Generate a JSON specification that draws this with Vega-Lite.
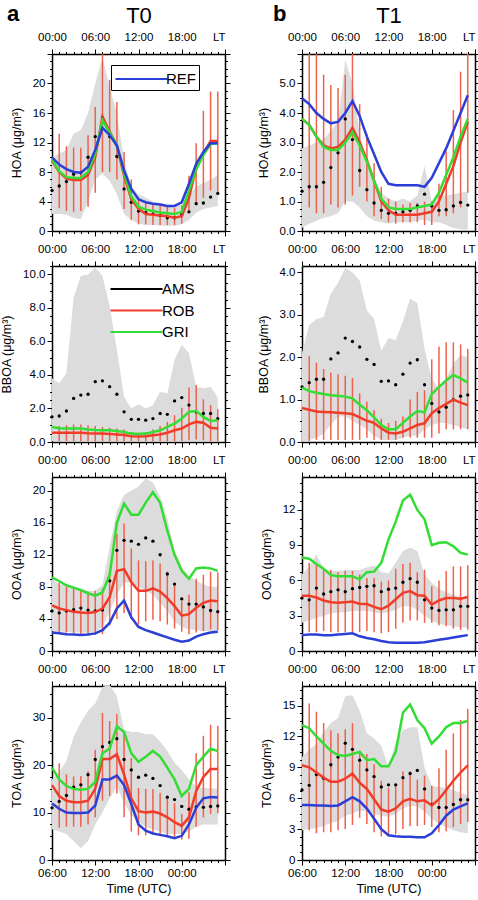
{
"$schema": "https://vega.github.io/schema/vega-lite/v6.json",
"padding": {"left": 0, "top": 3, "right": 6, "bottom": 4},
"background": "white",
"bounds": "flush",
"columns": 2,
"spacing": {"row": 35, "column": 77},
"resolve": {"scale": {"x": "independent", "y": "independent", "color": "independent"}, "legend": {"color": "independent"}},
"datasets": {
"hoa0": [
{"h":0,"lo":2.3,"hi":10.0,"ams":5.5,"rob":9.5,"gri":9.7,"ref":10.0,"elo":null,"ehi":null},
{"h":1,"lo":2.3,"hi":10.5,"ams":6.1,"rob":8.0,"gri":8.1,"ref":9.0,"elo":3.1,"ehi":13.2},
{"h":2,"lo":2.2,"hi":11.0,"ams":6.7,"rob":7.1,"gri":7.3,"ref":8.4,"elo":2.7,"ehi":11.5},
{"h":3,"lo":1.8,"hi":13.2,"ams":7.7,"rob":6.9,"gri":7.2,"ref":8.0,"elo":2.6,"ehi":11.3},
{"h":4,"lo":1.6,"hi":13.7,"ams":7.9,"rob":6.9,"gri":7.2,"ref":7.9,"elo":2.7,"ehi":11.3},
{"h":5,"lo":4.0,"hi":16.0,"ams":10.0,"rob":7.6,"gri":8.0,"ref":8.7,"elo":3.3,"ehi":13.0},
{"h":6,"lo":7.0,"hi":20.0,"ams":12.8,"rob":10.0,"gri":10.5,"ref":11.0,"elo":5.2,"ehi":16.8},
{"h":7,"lo":7.8,"hi":23.5,"ams":15.4,"rob":15.5,"gri":15.0,"ref":14.0,"elo":8.0,"ehi":25.0},
{"h":8,"lo":6.8,"hi":19.6,"ams":12.8,"rob":13.5,"gri":13.3,"ref":13.0,"elo":8.0,"ehi":20.5},
{"h":9,"lo":5.0,"hi":16.0,"ams":10.1,"rob":11.5,"gri":11.7,"ref":11.6,"elo":7.0,"ehi":17.5},
{"h":10,"lo":2.3,"hi":9.6,"ams":5.7,"rob":7.5,"gri":7.8,"ref":8.2,"elo":3.0,"ehi":10.7},
{"h":11,"lo":1.5,"hi":6.0,"ams":3.9,"rob":4.3,"gri":4.7,"ref":5.7,"elo":1.5,"ehi":7.0},
{"h":12,"lo":1.0,"hi":5.0,"ams":2.7,"rob":3.0,"gri":3.3,"ref":4.3,"elo":0.9,"ehi":4.5},
{"h":13,"lo":0.8,"hi":4.5,"ams":2.5,"rob":2.3,"gri":2.9,"ref":3.9,"elo":0.9,"ehi":3.8},
{"h":14,"lo":0.8,"hi":4.0,"ams":2.3,"rob":2.2,"gri":2.7,"ref":3.7,"elo":0.8,"ehi":3.6},
{"h":15,"lo":0.7,"hi":3.8,"ams":2.1,"rob":2.1,"gri":2.5,"ref":3.6,"elo":0.8,"ehi":3.5},
{"h":16,"lo":0.7,"hi":3.5,"ams":1.8,"rob":2.0,"gri":2.4,"ref":3.4,"elo":0.8,"ehi":3.3},
{"h":17,"lo":0.7,"hi":3.3,"ams":1.8,"rob":1.8,"gri":2.3,"ref":3.4,"elo":0.8,"ehi":3.1},
{"h":18,"lo":0.9,"hi":3.5,"ams":2.2,"rob":2.0,"gri":2.6,"ref":3.9,"elo":1.0,"ehi":3.5},
{"h":19,"lo":1.5,"hi":5.0,"ams":2.6,"rob":4.5,"gri":5.5,"ref":6.4,"elo":2.5,"ehi":7.5},
{"h":20,"lo":2.5,"hi":6.0,"ams":3.7,"rob":8.5,"gri":8.3,"ref":9.1,"elo":3.5,"ehi":11.9},
{"h":21,"lo":3.0,"hi":6.5,"ams":3.8,"rob":10.5,"gri":10.3,"ref":10.7,"elo":4.5,"ehi":16.3},
{"h":22,"lo":3.2,"hi":7.0,"ams":4.6,"rob":12.2,"gri":11.8,"ref":11.9,"elo":5.5,"ehi":18.9},
{"h":23,"lo":3.4,"hi":7.6,"ams":5.1,"rob":12.2,"gri":11.9,"ref":11.9,"elo":5.2,"ehi":18.9}
],
"hoa1": [
{"h":0,"lo":0.1,"hi":2.8,"ams":1.35,"rob":3.8,"gri":3.8,"ref":4.5,"elo":null,"ehi":null},
{"h":1,"lo":0.25,"hi":2.9,"ams":1.5,"rob":3.6,"gri":3.6,"ref":4.3,"elo":0.8,"ehi":6.0},
{"h":2,"lo":0.35,"hi":3.0,"ams":1.5,"rob":3.2,"gri":3.2,"ref":4.0,"elo":0.6,"ehi":6.0},
{"h":3,"lo":0.45,"hi":3.1,"ams":1.65,"rob":2.9,"gri":2.85,"ref":3.8,"elo":0.6,"ehi":5.3},
{"h":4,"lo":0.5,"hi":3.4,"ams":2.15,"rob":2.8,"gri":2.75,"ref":3.65,"elo":0.9,"ehi":4.95},
{"h":5,"lo":0.6,"hi":3.7,"ams":2.65,"rob":2.85,"gri":2.75,"ref":3.7,"elo":0.8,"ehi":4.85},
{"h":6,"lo":1.0,"hi":5.8,"ams":3.8,"rob":3.1,"gri":3.0,"ref":4.0,"elo":0.9,"ehi":5.3},
{"h":7,"lo":1.0,"hi":5.0,"ams":3.1,"rob":3.5,"gri":3.35,"ref":4.4,"elo":1.2,"ehi":6.0},
{"h":8,"lo":0.8,"hi":3.3,"ams":2.05,"rob":3.0,"gri":2.9,"ref":3.9,"elo":1.5,"ehi":4.3},
{"h":9,"lo":0.5,"hi":2.4,"ams":1.4,"rob":2.4,"gri":2.35,"ref":3.2,"elo":1.0,"ehi":3.3},
{"h":10,"lo":0.35,"hi":1.8,"ams":0.95,"rob":1.7,"gri":1.7,"ref":2.6,"elo":0.5,"ehi":2.3},
{"h":11,"lo":0.3,"hi":1.3,"ams":0.7,"rob":1.0,"gri":1.1,"ref":2.0,"elo":0.4,"ehi":1.5},
{"h":12,"lo":0.25,"hi":1.1,"ams":0.6,"rob":0.7,"gri":0.8,"ref":1.6,"elo":0.3,"ehi":1.1},
{"h":13,"lo":0.3,"hi":1.0,"ams":0.6,"rob":0.55,"gri":0.75,"ref":1.55,"elo":0.25,"ehi":1.0},
{"h":14,"lo":0.3,"hi":1.1,"ams":0.65,"rob":0.55,"gri":0.75,"ref":1.55,"elo":0.3,"ehi":0.9},
{"h":15,"lo":0.3,"hi":1.0,"ams":0.7,"rob":0.55,"gri":0.75,"ref":1.55,"elo":0.3,"ehi":0.95},
{"h":16,"lo":0.35,"hi":1.2,"ams":0.85,"rob":0.55,"gri":0.8,"ref":1.55,"elo":0.3,"ehi":0.95},
{"h":17,"lo":0.4,"hi":2.2,"ams":1.25,"rob":0.6,"gri":0.85,"ref":1.5,"elo":0.2,"ehi":1.0},
{"h":18,"lo":0.3,"hi":1.0,"ams":0.85,"rob":0.65,"gri":0.9,"ref":1.8,"elo":0.2,"ehi":1.0},
{"h":19,"lo":0.3,"hi":1.2,"ams":0.7,"rob":1.0,"gri":1.3,"ref":2.3,"elo":0.5,"ehi":1.6},
{"h":20,"lo":0.2,"hi":1.2,"ams":0.72,"rob":1.6,"gri":1.9,"ref":2.8,"elo":0.5,"ehi":2.7},
{"h":21,"lo":0.1,"hi":1.25,"ams":0.85,"rob":2.2,"gri":2.5,"ref":3.4,"elo":0.6,"ehi":4.1},
{"h":22,"lo":0.05,"hi":1.3,"ams":0.97,"rob":3.0,"gri":3.2,"ref":4.0,"elo":0.8,"ehi":5.4},
{"h":23,"lo":0.05,"hi":1.35,"ams":0.88,"rob":3.7,"gri":3.8,"ref":4.6,"elo":1.3,"ehi":6.0}
],
"bboa0": [
{"h":0,"lo":0.05,"hi":3.8,"ams":1.5,"rob":0.55,"gri":0.9,"elo":null,"ehi":null},
{"h":1,"lo":0.05,"hi":3.5,"ams":1.55,"rob":0.55,"gri":0.82,"elo":0.05,"ehi":0.95},
{"h":2,"lo":0.05,"hi":4.1,"ams":1.85,"rob":0.55,"gri":0.8,"elo":0.05,"ehi":1.0},
{"h":3,"lo":0.05,"hi":8.6,"ams":2.6,"rob":0.55,"gri":0.8,"elo":0.05,"ehi":1.05},
{"h":4,"lo":0.05,"hi":9.9,"ams":2.8,"rob":0.55,"gri":0.8,"elo":0.05,"ehi":1.05},
{"h":5,"lo":0.05,"hi":10.0,"ams":2.85,"rob":0.52,"gri":0.75,"elo":0.05,"ehi":1.0},
{"h":6,"lo":0.05,"hi":10.4,"ams":3.6,"rob":0.5,"gri":0.72,"elo":0.05,"ehi":0.95},
{"h":7,"lo":0.05,"hi":9.9,"ams":3.65,"rob":0.5,"gri":0.7,"elo":0.05,"ehi":0.9},
{"h":8,"lo":0.05,"hi":8.1,"ams":3.3,"rob":0.48,"gri":0.7,"elo":0.05,"ehi":0.85},
{"h":9,"lo":0.05,"hi":5.5,"ams":2.85,"rob":0.45,"gri":0.65,"elo":0.05,"ehi":0.8},
{"h":10,"lo":0.05,"hi":2.7,"ams":1.8,"rob":0.42,"gri":0.6,"elo":0.05,"ehi":0.75},
{"h":11,"lo":0.05,"hi":2.0,"ams":1.35,"rob":0.35,"gri":0.5,"elo":0.05,"ehi":0.6},
{"h":12,"lo":0.05,"hi":2.25,"ams":1.35,"rob":0.33,"gri":0.48,"elo":0.05,"ehi":0.55},
{"h":13,"lo":0.05,"hi":2.0,"ams":1.3,"rob":0.35,"gri":0.5,"elo":0.05,"ehi":0.6},
{"h":14,"lo":0.05,"hi":2.2,"ams":1.4,"rob":0.4,"gri":0.6,"elo":0.05,"ehi":0.75},
{"h":15,"lo":0.05,"hi":3.0,"ams":1.7,"rob":0.45,"gri":0.7,"elo":0.05,"ehi":0.95},
{"h":16,"lo":0.05,"hi":2.9,"ams":1.65,"rob":0.55,"gri":0.9,"elo":0.05,"ehi":1.2},
{"h":17,"lo":0.05,"hi":4.9,"ams":2.45,"rob":0.7,"gri":1.1,"elo":0.05,"ehi":1.6},
{"h":18,"lo":0.05,"hi":5.8,"ams":2.65,"rob":0.8,"gri":1.4,"elo":0.05,"ehi":2.05},
{"h":19,"lo":0.05,"hi":5.3,"ams":2.2,"rob":1.05,"gri":1.8,"elo":0.1,"ehi":3.25},
{"h":20,"lo":0.05,"hi":3.3,"ams":1.8,"rob":1.2,"gri":1.85,"elo":0.15,"ehi":3.4},
{"h":21,"lo":0.05,"hi":3.2,"ams":1.7,"rob":1.15,"gri":1.5,"elo":0.1,"ehi":2.55},
{"h":22,"lo":0.05,"hi":3.3,"ams":1.7,"rob":0.85,"gri":1.25,"elo":0.05,"ehi":2.2},
{"h":23,"lo":0.05,"hi":2.65,"ams":1.4,"rob":0.8,"gri":1.3,"elo":0.05,"ehi":1.95}
],
"bboa1": [
{"h":0,"lo":0.0,"hi":2.1,"ams":1.3,"rob":0.8,"gri":1.28,"elo":null,"ehi":null},
{"h":1,"lo":0.05,"hi":2.75,"ams":1.4,"rob":0.76,"gri":1.2,"elo":0.02,"ehi":2.02},
{"h":2,"lo":0.1,"hi":2.9,"ams":1.48,"rob":0.72,"gri":1.16,"elo":0.05,"ehi":1.87},
{"h":3,"lo":0.2,"hi":2.95,"ams":1.48,"rob":0.71,"gri":1.13,"elo":0.05,"ehi":1.72},
{"h":4,"lo":0.4,"hi":3.5,"ams":1.96,"rob":0.7,"gri":1.1,"elo":0.05,"ehi":1.64},
{"h":5,"lo":0.6,"hi":3.75,"ams":2.1,"rob":0.69,"gri":1.09,"elo":0.05,"ehi":1.6},
{"h":6,"lo":0.6,"hi":4.1,"ams":2.45,"rob":0.68,"gri":1.07,"elo":0.05,"ehi":1.56},
{"h":7,"lo":0.5,"hi":4.0,"ams":2.37,"rob":0.66,"gri":1.03,"elo":0.05,"ehi":1.51},
{"h":8,"lo":0.4,"hi":3.8,"ams":2.24,"rob":0.58,"gri":0.88,"elo":0.05,"ehi":1.15},
{"h":9,"lo":0.3,"hi":3.1,"ams":1.95,"rob":0.5,"gri":0.75,"elo":0.1,"ehi":0.95},
{"h":10,"lo":0.15,"hi":2.9,"ams":1.83,"rob":0.45,"gri":0.58,"elo":0.05,"ehi":0.75},
{"h":11,"lo":0.05,"hi":2.15,"ams":1.43,"rob":0.32,"gri":0.4,"elo":0.05,"ehi":0.55},
{"h":12,"lo":0.05,"hi":2.45,"ams":1.44,"rob":0.22,"gri":0.3,"elo":0.05,"ehi":0.45},
{"h":13,"lo":0.05,"hi":2.4,"ams":1.35,"rob":0.2,"gri":0.3,"elo":0.05,"ehi":0.5},
{"h":14,"lo":0.1,"hi":2.85,"ams":1.6,"rob":0.24,"gri":0.45,"elo":0.1,"ehi":0.6},
{"h":15,"lo":0.15,"hi":3.38,"ams":1.86,"rob":0.32,"gri":0.6,"elo":0.1,"ehi":1.0},
{"h":16,"lo":0.15,"hi":3.28,"ams":1.94,"rob":0.4,"gri":0.73,"elo":0.1,"ehi":1.18},
{"h":17,"lo":0.3,"hi":2.2,"ams":1.35,"rob":0.44,"gri":0.7,"elo":0.1,"ehi":1.22},
{"h":18,"lo":0.4,"hi":1.5,"ams":0.91,"rob":0.68,"gri":1.13,"elo":0.1,"ehi":1.95},
{"h":19,"lo":0.45,"hi":1.25,"ams":0.71,"rob":0.8,"gri":1.3,"elo":0.2,"ehi":2.25},
{"h":20,"lo":0.45,"hi":1.5,"ams":0.82,"rob":0.9,"gri":1.45,"elo":0.3,"ehi":2.35},
{"h":21,"lo":0.4,"hi":1.85,"ams":1.0,"rob":1.0,"gri":1.58,"elo":0.3,"ehi":2.35},
{"h":22,"lo":0.35,"hi":2.05,"ams":1.08,"rob":0.93,"gri":1.5,"elo":0.3,"ehi":2.3},
{"h":23,"lo":0.3,"hi":2.0,"ams":1.11,"rob":0.87,"gri":1.4,"elo":0.3,"ehi":2.2}
],
"ooa0": [
{"h":0,"lo":2.5,"hi":9.0,"ams":5.0,"rob":5.7,"gri":9.2,"ref":2.3,"elo":null,"ehi":null},
{"h":1,"lo":2.4,"hi":8.3,"ams":4.75,"rob":5.3,"gri":8.7,"ref":2.2,"elo":2.3,"ehi":8.5},
{"h":2,"lo":2.4,"hi":8.2,"ams":5.0,"rob":5.1,"gri":8.2,"ref":2.1,"elo":2.3,"ehi":8.0},
{"h":3,"lo":2.3,"hi":8.0,"ams":5.15,"rob":4.9,"gri":7.9,"ref":2.05,"elo":2.2,"ehi":7.8},
{"h":4,"lo":2.3,"hi":7.8,"ams":5.35,"rob":4.8,"gri":7.6,"ref":2.0,"elo":2.0,"ehi":7.5},
{"h":5,"lo":2.3,"hi":7.5,"ams":5.1,"rob":4.75,"gri":7.2,"ref":2.05,"elo":2.0,"ehi":7.4},
{"h":6,"lo":2.4,"hi":7.5,"ams":5.0,"rob":4.85,"gri":6.9,"ref":2.2,"elo":2.0,"ehi":7.5},
{"h":7,"lo":3.0,"hi":8.2,"ams":5.1,"rob":5.3,"gri":7.3,"ref":2.6,"elo":2.1,"ehi":7.8},
{"h":8,"lo":5.0,"hi":13.0,"ams":8.75,"rob":6.7,"gri":9.5,"ref":3.5,"elo":3.2,"ehi":10.0},
{"h":9,"lo":7.0,"hi":17.5,"ams":12.55,"rob":10.0,"gri":16.0,"ref":5.3,"elo":4.0,"ehi":14.6},
{"h":10,"lo":8.5,"hi":19.5,"ams":13.8,"rob":10.2,"gri":18.4,"ref":6.3,"elo":4.7,"ehi":15.9},
{"h":11,"lo":8.5,"hi":20.0,"ams":13.7,"rob":8.6,"gri":17.0,"ref":4.2,"elo":4.0,"ehi":12.8},
{"h":12,"lo":8.0,"hi":20.5,"ams":13.3,"rob":7.5,"gri":17.0,"ref":3.0,"elo":3.3,"ehi":11.3},
{"h":13,"lo":7.5,"hi":21.5,"ams":14.1,"rob":7.5,"gri":18.5,"ref":2.6,"elo":3.7,"ehi":11.2},
{"h":14,"lo":7.0,"hi":21.0,"ams":13.7,"rob":7.8,"gri":19.8,"ref":2.3,"elo":3.9,"ehi":11.3},
{"h":15,"lo":6.0,"hi":19.3,"ams":12.0,"rob":7.4,"gri":18.5,"ref":2.0,"elo":3.7,"ehi":10.9},
{"h":16,"lo":5.0,"hi":16.5,"ams":9.6,"rob":6.6,"gri":15.0,"ref":1.7,"elo":3.3,"ehi":9.9},
{"h":17,"lo":3.7,"hi":12.5,"ams":8.35,"rob":5.6,"gri":12.0,"ref":1.4,"elo":2.8,"ehi":8.4},
{"h":18,"lo":3.0,"hi":10.5,"ams":6.5,"rob":4.4,"gri":10.0,"ref":1.15,"elo":2.4,"ehi":6.2},
{"h":19,"lo":2.7,"hi":9.4,"ams":5.85,"rob":4.6,"gri":9.0,"ref":1.3,"elo":2.1,"ehi":7.0},
{"h":20,"lo":2.6,"hi":8.8,"ams":5.85,"rob":5.4,"gri":10.3,"ref":1.8,"elo":2.3,"ehi":9.0},
{"h":21,"lo":2.5,"hi":8.3,"ams":5.5,"rob":6.0,"gri":10.4,"ref":2.1,"elo":2.5,"ehi":9.5},
{"h":22,"lo":2.5,"hi":8.0,"ams":5.05,"rob":6.3,"gri":10.3,"ref":2.3,"elo":2.7,"ehi":9.9},
{"h":23,"lo":2.4,"hi":8.0,"ams":4.9,"rob":6.2,"gri":10.0,"ref":2.4,"elo":2.6,"ehi":9.8}
],
"ooa1": [
{"h":0,"lo":2.4,"hi":6.5,"ams":4.5,"rob":4.7,"gri":7.95,"ref":1.35,"elo":null,"ehi":null},
{"h":1,"lo":2.6,"hi":7.2,"ams":4.35,"rob":4.7,"gri":7.85,"ref":1.4,"elo":1.6,"ehi":7.5},
{"h":2,"lo":2.8,"hi":8.2,"ams":5.35,"rob":4.55,"gri":7.4,"ref":1.4,"elo":1.6,"ehi":7.4},
{"h":3,"lo":3.0,"hi":7.0,"ams":4.85,"rob":4.3,"gri":7.0,"ref":1.35,"elo":1.7,"ehi":7.0},
{"h":4,"lo":3.2,"hi":6.8,"ams":5.05,"rob":4.15,"gri":6.45,"ref":1.35,"elo":1.6,"ehi":6.9},
{"h":5,"lo":3.3,"hi":6.8,"ams":5.2,"rob":4.1,"gri":6.35,"ref":1.4,"elo":1.6,"ehi":6.7},
{"h":6,"lo":3.3,"hi":6.9,"ams":5.05,"rob":4.15,"gri":6.35,"ref":1.45,"elo":1.6,"ehi":6.8},
{"h":7,"lo":3.4,"hi":6.9,"ams":5.3,"rob":4.2,"gri":6.35,"ref":1.5,"elo":1.6,"ehi":6.8},
{"h":8,"lo":3.4,"hi":6.9,"ams":5.4,"rob":4.0,"gri":6.1,"ref":1.25,"elo":1.6,"ehi":6.5},
{"h":9,"lo":3.4,"hi":7.1,"ams":5.5,"rob":4.0,"gri":6.7,"ref":1.1,"elo":1.7,"ehi":6.2},
{"h":10,"lo":3.3,"hi":7.3,"ams":5.55,"rob":3.75,"gri":6.75,"ref":1.0,"elo":1.6,"ehi":6.2},
{"h":11,"lo":3.2,"hi":6.7,"ams":5.05,"rob":3.55,"gri":7.5,"ref":0.85,"elo":1.5,"ehi":5.9},
{"h":12,"lo":3.3,"hi":6.6,"ams":5.25,"rob":3.85,"gri":9.5,"ref":0.75,"elo":1.6,"ehi":6.0},
{"h":13,"lo":3.5,"hi":7.5,"ams":5.35,"rob":4.4,"gri":11.0,"ref":0.7,"elo":1.9,"ehi":7.0},
{"h":14,"lo":3.8,"hi":8.5,"ams":5.85,"rob":4.95,"gri":12.8,"ref":0.7,"elo":2.4,"ehi":7.4},
{"h":15,"lo":3.8,"hi":8.8,"ams":6.15,"rob":5.1,"gri":13.3,"ref":0.7,"elo":2.6,"ehi":7.5},
{"h":16,"lo":3.5,"hi":8.5,"ams":5.85,"rob":4.75,"gri":12.0,"ref":0.7,"elo":2.6,"ehi":6.7},
{"h":17,"lo":3.0,"hi":6.5,"ams":4.35,"rob":4.7,"gri":11.2,"ref":0.75,"elo":2.4,"ehi":6.9},
{"h":18,"lo":2.6,"hi":5.8,"ams":3.65,"rob":3.95,"gri":9.0,"ref":0.85,"elo":2.4,"ehi":5.5},
{"h":19,"lo":2.3,"hi":5.3,"ams":3.45,"rob":4.3,"gri":9.2,"ref":0.95,"elo":2.2,"ehi":6.0},
{"h":20,"lo":2.2,"hi":5.0,"ams":3.5,"rob":4.5,"gri":9.25,"ref":1.05,"elo":2.1,"ehi":6.8},
{"h":21,"lo":2.1,"hi":4.8,"ams":3.5,"rob":4.5,"gri":8.9,"ref":1.15,"elo":1.9,"ehi":7.2},
{"h":22,"lo":2.0,"hi":4.6,"ams":3.8,"rob":4.45,"gri":8.35,"ref":1.25,"elo":1.8,"ehi":7.2},
{"h":23,"lo":2.0,"hi":4.5,"ams":3.8,"rob":4.6,"gri":8.2,"ref":1.35,"elo":1.8,"ehi":7.3}
],
"toa0": [
{"h":0,"lo":6.5,"hi":17.0,"ams":11.0,"rob":15.8,"gri":19.5,"ref":11.9,"elo":null,"ehi":null},
{"h":1,"lo":6.0,"hi":18.5,"ams":12.35,"rob":13.5,"gri":17.0,"ref":10.8,"elo":6.8,"ehi":20.4},
{"h":2,"lo":5.5,"hi":21.0,"ams":13.6,"rob":12.5,"gri":15.6,"ref":10.0,"elo":7.0,"ehi":18.1},
{"h":3,"lo":4.0,"hi":26.0,"ams":15.35,"rob":12.2,"gri":15.0,"ref":9.9,"elo":7.0,"ehi":17.6},
{"h":4,"lo":2.5,"hi":29.0,"ams":15.85,"rob":12.2,"gri":14.8,"ref":9.9,"elo":7.0,"ehi":17.7},
{"h":5,"lo":4.0,"hi":31.5,"ams":18.0,"rob":12.5,"gri":15.0,"ref":10.0,"elo":7.5,"ehi":18.7},
{"h":6,"lo":7.5,"hi":33.0,"ams":21.2,"rob":15.0,"gri":16.5,"ref":11.5,"elo":9.0,"ehi":23.2},
{"h":7,"lo":10.0,"hi":36.5,"ams":23.9,"rob":21.3,"gri":22.5,"ref":17.0,"elo":12.5,"ehi":31.0},
{"h":8,"lo":13.0,"hi":37.0,"ams":24.8,"rob":21.3,"gri":23.5,"ref":17.0,"elo":13.5,"ehi":29.3},
{"h":9,"lo":15.5,"hi":34.5,"ams":25.6,"rob":22.3,"gri":28.2,"ref":17.8,"elo":14.0,"ehi":30.8},
{"h":10,"lo":12.0,"hi":27.5,"ams":21.2,"rob":18.0,"gri":27.0,"ref":15.8,"elo":9.0,"ehi":27.0},
{"h":11,"lo":9.5,"hi":27.0,"ams":19.0,"rob":13.0,"gri":22.5,"ref":11.8,"elo":6.0,"ehi":21.5},
{"h":12,"lo":8.0,"hi":27.0,"ams":17.45,"rob":10.3,"gri":20.7,"ref":7.5,"elo":5.2,"ehi":15.2},
{"h":13,"lo":7.0,"hi":26.5,"ams":17.9,"rob":10.0,"gri":21.8,"ref":6.2,"elo":5.2,"ehi":15.0},
{"h":14,"lo":6.5,"hi":26.5,"ams":17.2,"rob":10.2,"gri":23.0,"ref":5.6,"elo":5.5,"ehi":15.0},
{"h":15,"lo":6.0,"hi":25.0,"ams":15.7,"rob":9.8,"gri":21.8,"ref":5.3,"elo":5.0,"ehi":14.2},
{"h":16,"lo":5.5,"hi":23.0,"ams":13.25,"rob":9.0,"gri":19.5,"ref":5.0,"elo":4.8,"ehi":13.0},
{"h":17,"lo":5.5,"hi":20.5,"ams":12.75,"rob":8.0,"gri":17.0,"ref":4.6,"elo":4.5,"ehi":12.0},
{"h":18,"lo":5.5,"hi":19.0,"ams":11.3,"rob":7.2,"gri":13.5,"ref":5.1,"elo":4.3,"ehi":9.7},
{"h":19,"lo":6.0,"hi":17.0,"ams":10.7,"rob":9.0,"gri":15.0,"ref":7.5,"elo":4.5,"ehi":14.3},
{"h":20,"lo":7.0,"hi":15.5,"ams":11.2,"rob":14.5,"gri":20.0,"ref":11.0,"elo":7.0,"ehi":22.5},
{"h":21,"lo":7.5,"hi":15.2,"ams":11.1,"rob":17.5,"gri":21.8,"ref":13.0,"elo":9.0,"ehi":26.2},
{"h":22,"lo":7.5,"hi":15.2,"ams":11.3,"rob":19.2,"gri":23.5,"ref":13.3,"elo":9.7,"ehi":28.5},
{"h":23,"lo":7.5,"hi":15.0,"ams":11.4,"rob":19.2,"gri":23.0,"ref":13.2,"elo":9.8,"ehi":28.3}
],
"toa1": [
{"h":0,"lo":2.9,"hi":10.0,"ams":6.8,"rob":9.2,"gri":13.1,"ref":5.35,"elo":null,"ehi":null},
{"h":1,"lo":3.0,"hi":10.7,"ams":7.25,"rob":9.0,"gri":12.8,"ref":5.35,"elo":2.9,"ehi":15.2},
{"h":2,"lo":3.1,"hi":11.3,"ams":8.3,"rob":8.5,"gri":12.0,"ref":5.3,"elo":2.6,"ehi":14.4},
{"h":3,"lo":3.3,"hi":12.4,"ams":7.95,"rob":8.0,"gri":11.3,"ref":5.3,"elo":2.7,"ehi":13.3},
{"h":4,"lo":3.6,"hi":13.3,"ams":9.25,"rob":7.6,"gri":10.6,"ref":5.25,"elo":2.7,"ehi":12.6},
{"h":5,"lo":3.8,"hi":13.8,"ams":10.0,"rob":7.6,"gri":10.2,"ref":5.3,"elo":2.9,"ehi":12.3},
{"h":6,"lo":4.3,"hi":15.9,"ams":11.35,"rob":7.9,"gri":10.1,"ref":5.7,"elo":3.0,"ehi":12.7},
{"h":7,"lo":4.5,"hi":16.0,"ams":10.75,"rob":8.4,"gri":10.3,"ref":6.1,"elo":3.4,"ehi":13.3},
{"h":8,"lo":4.8,"hi":14.5,"ams":9.7,"rob":7.5,"gri":10.5,"ref":5.7,"elo":4.1,"ehi":10.6},
{"h":9,"lo":4.7,"hi":12.3,"ams":8.75,"rob":6.9,"gri":9.7,"ref":5.0,"elo":3.5,"ehi":10.3},
{"h":10,"lo":4.5,"hi":11.8,"ams":8.1,"rob":5.9,"gri":9.8,"ref":4.0,"elo":2.7,"ehi":9.3},
{"h":11,"lo":4.3,"hi":11.1,"ams":7.1,"rob":4.9,"gri":9.1,"ref":3.0,"elo":2.3,"ehi":7.7},
{"h":12,"lo":4.2,"hi":9.0,"ams":7.3,"rob":4.7,"gri":9.1,"ref":2.4,"elo":2.3,"ehi":7.0},
{"h":13,"lo":4.5,"hi":11.5,"ams":7.3,"rob":5.0,"gri":10.5,"ref":2.3,"elo":2.5,"ehi":7.4},
{"h":14,"lo":5.0,"hi":12.6,"ams":8.0,"rob":5.7,"gri":14.3,"ref":2.25,"elo":3.0,"ehi":8.6},
{"h":15,"lo":5.3,"hi":12.9,"ams":8.4,"rob":5.95,"gri":15.1,"ref":2.25,"elo":3.3,"ehi":8.6},
{"h":16,"lo":5.2,"hi":12.9,"ams":8.7,"rob":5.7,"gri":13.6,"ref":2.2,"elo":3.3,"ehi":7.8},
{"h":17,"lo":4.7,"hi":9.0,"ams":6.9,"rob":5.8,"gri":12.8,"ref":2.2,"elo":3.4,"ehi":8.2},
{"h":18,"lo":4.0,"hi":7.2,"ams":5.4,"rob":5.3,"gri":11.3,"ref":2.6,"elo":3.2,"ehi":7.2},
{"h":19,"lo":3.5,"hi":7.1,"ams":5.1,"rob":5.9,"gri":12.0,"ref":3.4,"elo":2.7,"ehi":8.9},
{"h":20,"lo":3.2,"hi":7.0,"ams":5.1,"rob":6.8,"gri":12.9,"ref":4.3,"elo":2.8,"ehi":10.7},
{"h":21,"lo":2.9,"hi":6.8,"ams":5.4,"rob":7.7,"gri":13.3,"ref":4.9,"elo":3.2,"ehi":12.3},
{"h":22,"lo":2.7,"hi":6.5,"ams":5.85,"rob":8.5,"gri":13.3,"ref":5.2,"elo":3.5,"ehi":13.6},
{"h":23,"lo":2.6,"hi":6.3,"ams":5.85,"rob":9.2,"gri":13.5,"ref":5.5,"elo":3.7,"ehi":14.7}
]
},
"concat": [
{
"width": 173, "height": 177,
"data": {"name": "hoa0"},
"title": {"text": "a", "anchor": "start", "frame": "group", "dx": -45, "dy": 22, "fontSize": 22, "fontWeight": "bold", "offset": 0},
"layer": [
{"mark": {"type": "area", "color": "#dcdcdc", "clip": true},
 "encoding": {
  "x": {"field": "h", "type": "quantitative", "scale": {"domain": [0, 24], "nice": false, "zero": false},
   "axis": {"orient": "top", "values": [0,1,2,3,4,5,6,7,8,9,10,11,12,13,14,15,16,17,18,19,20,21,22,23,24], "labelExpr": "datum.value == 24 ? 'LT' : (datum.value % 6 == 0 ? (datum.value < 10 ? '0' : '') + datum.value + ':00' : '')", "labelAlign": {"condition": {"test": "datum.value == 24", "value": "right"}, "value": "center"}, "tickSize": {"condition": {"test": "datum.value % 6 == 0", "value": 5}, "value": 2.5}, "title": "T0", "titleFontSize": 22, "titlePadding": 4}},
  "y": {"field": "lo", "type": "quantitative", "scale": {"domain": [0, 24], "nice": false, "zero": false},
   "axis": {"orient": "left", "values": [0,1,2,3,4,5,6,7,8,9,10,11,12,13,14,15,16,17,18,19,20,21,22,23,24], "labelExpr": "datum.value % 4 == 0 && datum.value <= 20 ? datum.label : ''", "tickSize": {"condition": {"test": "datum.value % 4 == 0", "value": 5}, "value": 2.5}, "title": "HOA (μg/m³)"}},
  "y2": {"field": "hi"}}},
{"mark": {"type": "rule", "color": "#f0604c", "strokeWidth": 1.5, "clip": true},
 "encoding": {
  "x": {"field": "h", "type": "quantitative", "axis": {"orient": "bottom", "values": [0,1,2,3,4,5,6,7,8,9,10,11,12,13,14,15,16,17,18,19,20,21,22,23,24], "labels": false, "tickSize": {"condition": {"test": "datum.value % 6 == 0", "value": 5}, "value": 2.5}, "title": null}},
  "y": {"field": "elo", "type": "quantitative", "axis": {"orient": "right", "values": [0,1,2,3,4,5,6,7,8,9,10,11,12,13,14,15,16,17,18,19,20,21,22,23,24], "labels": false, "tickSize": {"condition": {"test": "datum.value % 4 == 0", "value": 5}, "value": 2.5}, "title": null}},
  "y2": {"field": "ehi"}}},
{"mark": {"type": "circle", "color": "black", "size": 11, "opacity": 1},
 "encoding": {"x": {"field": "h", "type": "quantitative", "axis": null}, "y": {"field": "ams", "type": "quantitative", "axis": null}}},
{"mark": {"type": "line", "color": "#f03c28", "strokeWidth": 2.5},
 "encoding": {"x": {"field": "h", "type": "quantitative", "axis": null}, "y": {"field": "rob", "type": "quantitative", "axis": null}}},
{"mark": {"type": "line", "color": "#33dd33", "strokeWidth": 2.5},
 "encoding": {"x": {"field": "h", "type": "quantitative", "axis": null}, "y": {"field": "gri", "type": "quantitative", "axis": null}}},
{"mark": {"type": "line", "strokeWidth": 2.5},
 "encoding": {"x": {"field": "h", "type": "quantitative", "axis": null}, "y": {"field": "ref", "type": "quantitative", "axis": null},
  "color": {"datum": "REF", "type": "nominal", "scale": {"domain": ["REF"], "range": ["#2b3fd6"]},
   "legend": {"orient": "none", "legendX": 59, "legendY": 11, "title": null, "symbolType": "M-1,0H4.474", "symbolSize": 361, "symbolStrokeWidth": 2.2, "labelFontSize": 15, "labelFont": "Liberation Sans", "labelColor": "black", "labelOffset": 30, "strokeColor": "black", "padding": 3}}}}
],
"resolve": {"axis": {"x": "independent", "y": "independent"}}
},
{
"width": 173, "height": 177,
"data": {"name": "hoa1"},
"title": {"text": "b", "anchor": "start", "frame": "group", "dx": -29, "dy": 22, "fontSize": 22, "fontWeight": "bold", "offset": 0},
"layer": [
{"mark": {"type": "area", "color": "#dcdcdc", "clip": true},
 "encoding": {
  "x": {"field": "h", "type": "quantitative", "scale": {"domain": [0, 24], "nice": false, "zero": false},
   "axis": {"orient": "top", "values": [0,1,2,3,4,5,6,7,8,9,10,11,12,13,14,15,16,17,18,19,20,21,22,23,24], "labelExpr": "datum.value == 24 ? 'LT' : (datum.value % 6 == 0 ? (datum.value < 10 ? '0' : '') + datum.value + ':00' : '')", "labelAlign": {"condition": {"test": "datum.value == 24", "value": "right"}, "value": "center"}, "tickSize": {"condition": {"test": "datum.value % 6 == 0", "value": 5}, "value": 2.5}, "title": "T1", "titleFontSize": 22, "titlePadding": 4}},
  "y": {"field": "lo", "type": "quantitative", "scale": {"domain": [0, 6], "nice": false, "zero": false},
   "axis": {"orient": "left", "format": ".1f", "values": [0,0.25,0.5,0.75,1,1.25,1.5,1.75,2,2.25,2.5,2.75,3,3.25,3.5,3.75,4,4.25,4.5,4.75,5,5.25,5.5,5.75,6], "labelExpr": "datum.value % 1 == 0 && datum.value <= 5 ? datum.label : ''", "tickSize": {"condition": {"test": "datum.value % 1 == 0", "value": 5}, "value": 2.5}, "title": "HOA (μg/m³)"}},
  "y2": {"field": "hi"}}},
{"mark": {"type": "rule", "color": "#f0604c", "strokeWidth": 1.5, "clip": true},
 "encoding": {
  "x": {"field": "h", "type": "quantitative", "axis": {"orient": "bottom", "values": [0,1,2,3,4,5,6,7,8,9,10,11,12,13,14,15,16,17,18,19,20,21,22,23,24], "labels": false, "tickSize": {"condition": {"test": "datum.value % 6 == 0", "value": 5}, "value": 2.5}, "title": null}},
  "y": {"field": "elo", "type": "quantitative", "axis": {"orient": "right", "values": [0,0.25,0.5,0.75,1,1.25,1.5,1.75,2,2.25,2.5,2.75,3,3.25,3.5,3.75,4,4.25,4.5,4.75,5,5.25,5.5,5.75,6], "labels": false, "tickSize": {"condition": {"test": "datum.value % 1 == 0", "value": 5}, "value": 2.5}, "title": null}},
  "y2": {"field": "ehi"}}},
{"mark": {"type": "circle", "color": "black", "size": 11, "opacity": 1},
 "encoding": {"x": {"field": "h", "type": "quantitative", "axis": null}, "y": {"field": "ams", "type": "quantitative", "axis": null}}},
{"mark": {"type": "line", "color": "#f03c28", "strokeWidth": 2.5},
 "encoding": {"x": {"field": "h", "type": "quantitative", "axis": null}, "y": {"field": "rob", "type": "quantitative", "axis": null}}},
{"mark": {"type": "line", "color": "#33dd33", "strokeWidth": 2.5},
 "encoding": {"x": {"field": "h", "type": "quantitative", "axis": null}, "y": {"field": "gri", "type": "quantitative", "axis": null}}},
{"mark": {"type": "line", "color": "#2b3fd6", "strokeWidth": 2.5},
 "encoding": {"x": {"field": "h", "type": "quantitative", "axis": null}, "y": {"field": "ref", "type": "quantitative", "axis": null}}}
],
"resolve": {"axis": {"x": "independent", "y": "independent"}}
},
{
"width": 173, "height": 176,
"data": {"name": "bboa0"},
"layer": [
{"mark": {"type": "area", "color": "#dcdcdc", "clip": true},
 "encoding": {
  "x": {"field": "h", "type": "quantitative", "scale": {"domain": [0, 24], "nice": false, "zero": false},
   "axis": {"orient": "top", "values": [0,1,2,3,4,5,6,7,8,9,10,11,12,13,14,15,16,17,18,19,20,21,22,23,24], "labelExpr": "datum.value == 24 ? 'LT' : (datum.value % 6 == 0 ? (datum.value < 10 ? '0' : '') + datum.value + ':00' : '')", "labelAlign": {"condition": {"test": "datum.value == 24", "value": "right"}, "value": "center"}, "tickSize": {"condition": {"test": "datum.value % 6 == 0", "value": 5}, "value": 2.5}, "title": null}},
  "y": {"field": "lo", "type": "quantitative", "scale": {"domain": [0, 10.5], "nice": false, "zero": false},
   "axis": {"orient": "left", "values": [0,0.5,1,1.5,2,2.5,3,3.5,4,4.5,5,5.5,6,6.5,7,7.5,8,8.5,9,9.5,10,10.5], "labelExpr": "datum.value % 2 == 0 && datum.value <= 10 ? datum.label : ''", "tickSize": {"condition": {"test": "datum.value % 2 == 0", "value": 5}, "value": 2.5}, "title": "BBOA (μg/m³)"}},
  "y2": {"field": "hi"}}},
{"mark": {"type": "rule", "color": "#f0604c", "strokeWidth": 1.5, "clip": true},
 "encoding": {
  "x": {"field": "h", "type": "quantitative", "axis": {"orient": "bottom", "values": [0,1,2,3,4,5,6,7,8,9,10,11,12,13,14,15,16,17,18,19,20,21,22,23,24], "labels": false, "tickSize": {"condition": {"test": "datum.value % 6 == 0", "value": 5}, "value": 2.5}, "title": null}},
  "y": {"field": "elo", "type": "quantitative", "axis": {"orient": "right", "values": [0,0.5,1,1.5,2,2.5,3,3.5,4,4.5,5,5.5,6,6.5,7,7.5,8,8.5,9,9.5,10,10.5], "labels": false, "tickSize": {"condition": {"test": "datum.value % 2 == 0", "value": 5}, "value": 2.5}, "title": null}},
  "y2": {"field": "ehi"}}},
{"mark": {"type": "circle", "color": "black", "size": 11, "opacity": 1},
 "encoding": {"x": {"field": "h", "type": "quantitative", "axis": null}, "y": {"field": "ams", "type": "quantitative", "axis": null}}},
{"mark": {"type": "line", "strokeWidth": 2.5},
 "encoding": {"x": {"field": "h", "type": "quantitative", "axis": null}, "y": {"field": "rob", "type": "quantitative", "axis": null},
  "color": {"datum": "ROB", "type": "nominal", "scale": {"domain": ["AMS", "ROB", "GRI"], "range": ["black", "#f03c28", "#33dd33"]},
   "legend": {"orient": "none", "legendX": 57, "legendY": 12, "title": null, "symbolType": "M-1,0H4.474", "symbolSize": 361, "symbolStrokeWidth": 2.2, "labelFontSize": 15, "labelFont": "Liberation Sans", "labelColor": "black", "labelOffset": 31, "padding": 0, "rowPadding": 2.5}}}},
{"mark": {"type": "line", "strokeWidth": 2.5},
 "encoding": {"x": {"field": "h", "type": "quantitative", "axis": null}, "y": {"field": "gri", "type": "quantitative", "axis": null},
  "color": {"datum": "GRI", "type": "nominal"}}}
],
"resolve": {"axis": {"x": "independent", "y": "independent"}}
},
{
"width": 173, "height": 176,
"data": {"name": "bboa1"},
"layer": [
{"mark": {"type": "area", "color": "#dcdcdc", "clip": true},
 "encoding": {
  "x": {"field": "h", "type": "quantitative", "scale": {"domain": [0, 24], "nice": false, "zero": false},
   "axis": {"orient": "top", "values": [0,1,2,3,4,5,6,7,8,9,10,11,12,13,14,15,16,17,18,19,20,21,22,23,24], "labelExpr": "datum.value == 24 ? 'LT' : (datum.value % 6 == 0 ? (datum.value < 10 ? '0' : '') + datum.value + ':00' : '')", "labelAlign": {"condition": {"test": "datum.value == 24", "value": "right"}, "value": "center"}, "tickSize": {"condition": {"test": "datum.value % 6 == 0", "value": 5}, "value": 2.5}, "title": null}},
  "y": {"field": "lo", "type": "quantitative", "scale": {"domain": [0, 4.15], "nice": false, "zero": false},
   "axis": {"orient": "left", "format": ".1f", "values": [0,0.25,0.5,0.75,1,1.25,1.5,1.75,2,2.25,2.5,2.75,3,3.25,3.5,3.75,4], "labelExpr": "datum.value % 1 == 0 ? datum.label : ''", "tickSize": {"condition": {"test": "datum.value % 1 == 0", "value": 5}, "value": 2.5}, "title": "BBOA (μg/m³)"}},
  "y2": {"field": "hi"}}},
{"mark": {"type": "rule", "color": "#f0604c", "strokeWidth": 1.5, "clip": true},
 "encoding": {
  "x": {"field": "h", "type": "quantitative", "axis": {"orient": "bottom", "values": [0,1,2,3,4,5,6,7,8,9,10,11,12,13,14,15,16,17,18,19,20,21,22,23,24], "labels": false, "tickSize": {"condition": {"test": "datum.value % 6 == 0", "value": 5}, "value": 2.5}, "title": null}},
  "y": {"field": "elo", "type": "quantitative", "axis": {"orient": "right", "values": [0,0.25,0.5,0.75,1,1.25,1.5,1.75,2,2.25,2.5,2.75,3,3.25,3.5,3.75,4], "labels": false, "tickSize": {"condition": {"test": "datum.value % 1 == 0", "value": 5}, "value": 2.5}, "title": null}},
  "y2": {"field": "ehi"}}},
{"mark": {"type": "circle", "color": "black", "size": 11, "opacity": 1},
 "encoding": {"x": {"field": "h", "type": "quantitative", "axis": null}, "y": {"field": "ams", "type": "quantitative", "axis": null}}},
{"mark": {"type": "line", "color": "#f03c28", "strokeWidth": 2.5},
 "encoding": {"x": {"field": "h", "type": "quantitative", "axis": null}, "y": {"field": "rob", "type": "quantitative", "axis": null}}},
{"mark": {"type": "line", "color": "#33dd33", "strokeWidth": 2.5},
 "encoding": {"x": {"field": "h", "type": "quantitative", "axis": null}, "y": {"field": "gri", "type": "quantitative", "axis": null}}}
],
"resolve": {"axis": {"x": "independent", "y": "independent"}}
},
{
"width": 173, "height": 174,
"data": {"name": "ooa0"},
"layer": [
{"mark": {"type": "area", "color": "#dcdcdc", "clip": true},
 "encoding": {
  "x": {"field": "h", "type": "quantitative", "scale": {"domain": [0, 24], "nice": false, "zero": false},
   "axis": {"orient": "top", "values": [0,1,2,3,4,5,6,7,8,9,10,11,12,13,14,15,16,17,18,19,20,21,22,23,24], "labelExpr": "datum.value == 24 ? 'LT' : (datum.value % 6 == 0 ? (datum.value < 10 ? '0' : '') + datum.value + ':00' : '')", "labelAlign": {"condition": {"test": "datum.value == 24", "value": "right"}, "value": "center"}, "tickSize": {"condition": {"test": "datum.value % 6 == 0", "value": 5}, "value": 2.5}, "title": null}},
  "y": {"field": "lo", "type": "quantitative", "scale": {"domain": [0, 21.7], "nice": false, "zero": false},
   "axis": {"orient": "left", "values": [0,1,2,3,4,5,6,7,8,9,10,11,12,13,14,15,16,17,18,19,20,21], "labelExpr": "datum.value % 4 == 0 ? datum.label : ''", "tickSize": {"condition": {"test": "datum.value % 4 == 0", "value": 5}, "value": 2.5}, "title": "OOA (μg/m³)"}},
  "y2": {"field": "hi"}}},
{"mark": {"type": "rule", "color": "#f0604c", "strokeWidth": 1.5, "clip": true},
 "encoding": {
  "x": {"field": "h", "type": "quantitative", "axis": {"orient": "bottom", "values": [0,1,2,3,4,5,6,7,8,9,10,11,12,13,14,15,16,17,18,19,20,21,22,23,24], "labels": false, "tickSize": {"condition": {"test": "datum.value % 6 == 0", "value": 5}, "value": 2.5}, "title": null}},
  "y": {"field": "elo", "type": "quantitative", "axis": {"orient": "right", "values": [0,1,2,3,4,5,6,7,8,9,10,11,12,13,14,15,16,17,18,19,20,21], "labels": false, "tickSize": {"condition": {"test": "datum.value % 4 == 0", "value": 5}, "value": 2.5}, "title": null}},
  "y2": {"field": "ehi"}}},
{"mark": {"type": "circle", "color": "black", "size": 11, "opacity": 1},
 "encoding": {"x": {"field": "h", "type": "quantitative", "axis": null}, "y": {"field": "ams", "type": "quantitative", "axis": null}}},
{"mark": {"type": "line", "color": "#f03c28", "strokeWidth": 2.5},
 "encoding": {"x": {"field": "h", "type": "quantitative", "axis": null}, "y": {"field": "rob", "type": "quantitative", "axis": null}}},
{"mark": {"type": "line", "color": "#33dd33", "strokeWidth": 2.5},
 "encoding": {"x": {"field": "h", "type": "quantitative", "axis": null}, "y": {"field": "gri", "type": "quantitative", "axis": null}}},
{"mark": {"type": "line", "color": "#2b3fd6", "strokeWidth": 2.5},
 "encoding": {"x": {"field": "h", "type": "quantitative", "axis": null}, "y": {"field": "ref", "type": "quantitative", "axis": null}}}
],
"resolve": {"axis": {"x": "independent", "y": "independent"}}
},
{
"width": 173, "height": 174,
"data": {"name": "ooa1"},
"layer": [
{"mark": {"type": "area", "color": "#dcdcdc", "clip": true},
 "encoding": {
  "x": {"field": "h", "type": "quantitative", "scale": {"domain": [0, 24], "nice": false, "zero": false},
   "axis": {"orient": "top", "values": [0,1,2,3,4,5,6,7,8,9,10,11,12,13,14,15,16,17,18,19,20,21,22,23,24], "labelExpr": "datum.value == 24 ? 'LT' : (datum.value % 6 == 0 ? (datum.value < 10 ? '0' : '') + datum.value + ':00' : '')", "labelAlign": {"condition": {"test": "datum.value == 24", "value": "right"}, "value": "center"}, "tickSize": {"condition": {"test": "datum.value % 6 == 0", "value": 5}, "value": 2.5}, "title": null}},
  "y": {"field": "lo", "type": "quantitative", "scale": {"domain": [0, 14.8], "nice": false, "zero": false},
   "axis": {"orient": "left", "values": [0,0.75,1.5,2.25,3,3.75,4.5,5.25,6,6.75,7.5,8.25,9,9.75,10.5,11.25,12,12.75,13.5,14.25], "labelExpr": "datum.value % 3 == 0 ? datum.label : ''", "tickSize": {"condition": {"test": "datum.value % 3 == 0", "value": 5}, "value": 2.5}, "title": "OOA (μg/m³)"}},
  "y2": {"field": "hi"}}},
{"mark": {"type": "rule", "color": "#f0604c", "strokeWidth": 1.5, "clip": true},
 "encoding": {
  "x": {"field": "h", "type": "quantitative", "axis": {"orient": "bottom", "values": [0,1,2,3,4,5,6,7,8,9,10,11,12,13,14,15,16,17,18,19,20,21,22,23,24], "labels": false, "tickSize": {"condition": {"test": "datum.value % 6 == 0", "value": 5}, "value": 2.5}, "title": null}},
  "y": {"field": "elo", "type": "quantitative", "axis": {"orient": "right", "values": [0,0.75,1.5,2.25,3,3.75,4.5,5.25,6,6.75,7.5,8.25,9,9.75,10.5,11.25,12,12.75,13.5,14.25], "labels": false, "tickSize": {"condition": {"test": "datum.value % 3 == 0", "value": 5}, "value": 2.5}, "title": null}},
  "y2": {"field": "ehi"}}},
{"mark": {"type": "circle", "color": "black", "size": 11, "opacity": 1},
 "encoding": {"x": {"field": "h", "type": "quantitative", "axis": null}, "y": {"field": "ams", "type": "quantitative", "axis": null}}},
{"mark": {"type": "line", "color": "#f03c28", "strokeWidth": 2.5},
 "encoding": {"x": {"field": "h", "type": "quantitative", "axis": null}, "y": {"field": "rob", "type": "quantitative", "axis": null}}},
{"mark": {"type": "line", "color": "#33dd33", "strokeWidth": 2.5},
 "encoding": {"x": {"field": "h", "type": "quantitative", "axis": null}, "y": {"field": "gri", "type": "quantitative", "axis": null}}},
{"mark": {"type": "line", "color": "#2b3fd6", "strokeWidth": 2.5},
 "encoding": {"x": {"field": "h", "type": "quantitative", "axis": null}, "y": {"field": "ref", "type": "quantitative", "axis": null}}}
],
"resolve": {"axis": {"x": "independent", "y": "independent"}}
},
{
"width": 173, "height": 174,
"data": {"name": "toa0"},
"layer": [
{"mark": {"type": "area", "color": "#dcdcdc", "clip": true},
 "encoding": {
  "x": {"field": "h", "type": "quantitative", "scale": {"domain": [0, 24], "nice": false, "zero": false},
   "axis": {"orient": "top", "values": [0,1,2,3,4,5,6,7,8,9,10,11,12,13,14,15,16,17,18,19,20,21,22,23,24], "labelExpr": "datum.value == 24 ? 'LT' : (datum.value % 6 == 0 ? (datum.value < 10 ? '0' : '') + datum.value + ':00' : '')", "labelAlign": {"condition": {"test": "datum.value == 24", "value": "right"}, "value": "center"}, "tickSize": {"condition": {"test": "datum.value % 6 == 0", "value": 5}, "value": 2.5}, "title": null}},
  "y": {"field": "lo", "type": "quantitative", "scale": {"domain": [0, 36.7], "nice": false, "zero": false},
   "axis": {"orient": "left", "values": [0,2.5,5,7.5,10,12.5,15,17.5,20,22.5,25,27.5,30,32.5,35], "labelExpr": "datum.value % 10 == 0 ? datum.label : ''", "tickSize": {"condition": {"test": "datum.value % 10 == 0", "value": 5}, "value": 2.5}, "title": "TOA (μg/m³)"}},
  "y2": {"field": "hi"}}},
{"mark": {"type": "rule", "color": "#f0604c", "strokeWidth": 1.5, "clip": true},
 "encoding": {
  "x": {"field": "h", "type": "quantitative", "axis": {"orient": "bottom", "values": [0,1,2,3,4,5,6,7,8,9,10,11,12,13,14,15,16,17,18,19,20,21,22,23,24], "labelExpr": "datum.value % 6 == 0 && datum.value < 24 ? ['06:00', '12:00', '18:00', '00:00'][datum.value / 6] : ''", "tickSize": {"condition": {"test": "datum.value % 6 == 0", "value": 5}, "value": 2.5}, "title": "Time (UTC)", "titlePadding": 4}},
  "y": {"field": "elo", "type": "quantitative", "axis": {"orient": "right", "values": [0,2.5,5,7.5,10,12.5,15,17.5,20,22.5,25,27.5,30,32.5,35], "labels": false, "tickSize": {"condition": {"test": "datum.value % 10 == 0", "value": 5}, "value": 2.5}, "title": null}},
  "y2": {"field": "ehi"}}},
{"mark": {"type": "circle", "color": "black", "size": 11, "opacity": 1},
 "encoding": {"x": {"field": "h", "type": "quantitative", "axis": null}, "y": {"field": "ams", "type": "quantitative", "axis": null}}},
{"mark": {"type": "line", "color": "#f03c28", "strokeWidth": 2.5},
 "encoding": {"x": {"field": "h", "type": "quantitative", "axis": null}, "y": {"field": "rob", "type": "quantitative", "axis": null}}},
{"mark": {"type": "line", "color": "#33dd33", "strokeWidth": 2.5},
 "encoding": {"x": {"field": "h", "type": "quantitative", "axis": null}, "y": {"field": "gri", "type": "quantitative", "axis": null}}},
{"mark": {"type": "line", "color": "#2b3fd6", "strokeWidth": 2.5},
 "encoding": {"x": {"field": "h", "type": "quantitative", "axis": null}, "y": {"field": "ref", "type": "quantitative", "axis": null}}}
],
"resolve": {"axis": {"x": "independent", "y": "independent"}}
},
{
"width": 173, "height": 174,
"data": {"name": "toa1"},
"layer": [
{"mark": {"type": "area", "color": "#dcdcdc", "clip": true},
 "encoding": {
  "x": {"field": "h", "type": "quantitative", "scale": {"domain": [0, 24], "nice": false, "zero": false},
   "axis": {"orient": "top", "values": [0,1,2,3,4,5,6,7,8,9,10,11,12,13,14,15,16,17,18,19,20,21,22,23,24], "labelExpr": "datum.value == 24 ? 'LT' : (datum.value % 6 == 0 ? (datum.value < 10 ? '0' : '') + datum.value + ':00' : '')", "labelAlign": {"condition": {"test": "datum.value == 24", "value": "right"}, "value": "center"}, "tickSize": {"condition": {"test": "datum.value % 6 == 0", "value": 5}, "value": 2.5}, "title": null}},
  "y": {"field": "lo", "type": "quantitative", "scale": {"domain": [0, 16.9], "nice": false, "zero": false},
   "axis": {"orient": "left", "values": [0,0.75,1.5,2.25,3,3.75,4.5,5.25,6,6.75,7.5,8.25,9,9.75,10.5,11.25,12,12.75,13.5,14.25,15,15.75,16.5], "labelExpr": "datum.value % 3 == 0 ? datum.label : ''", "tickSize": {"condition": {"test": "datum.value % 3 == 0", "value": 5}, "value": 2.5}, "title": "TOA (μg/m³)"}},
  "y2": {"field": "hi"}}},
{"mark": {"type": "rule", "color": "#f0604c", "strokeWidth": 1.5, "clip": true},
 "encoding": {
  "x": {"field": "h", "type": "quantitative", "axis": {"orient": "bottom", "values": [0,1,2,3,4,5,6,7,8,9,10,11,12,13,14,15,16,17,18,19,20,21,22,23,24], "labelExpr": "datum.value % 6 == 0 && datum.value < 24 ? ['06:00', '12:00', '18:00', '00:00'][datum.value / 6] : ''", "tickSize": {"condition": {"test": "datum.value % 6 == 0", "value": 5}, "value": 2.5}, "title": "Time (UTC)", "titlePadding": 4}},
  "y": {"field": "elo", "type": "quantitative", "axis": {"orient": "right", "values": [0,0.75,1.5,2.25,3,3.75,4.5,5.25,6,6.75,7.5,8.25,9,9.75,10.5,11.25,12,12.75,13.5,14.25,15,15.75,16.5], "labels": false, "tickSize": {"condition": {"test": "datum.value % 3 == 0", "value": 5}, "value": 2.5}, "title": null}},
  "y2": {"field": "ehi"}}},
{"mark": {"type": "circle", "color": "black", "size": 11, "opacity": 1},
 "encoding": {"x": {"field": "h", "type": "quantitative", "axis": null}, "y": {"field": "ams", "type": "quantitative", "axis": null}}},
{"mark": {"type": "line", "color": "#f03c28", "strokeWidth": 2.5},
 "encoding": {"x": {"field": "h", "type": "quantitative", "axis": null}, "y": {"field": "rob", "type": "quantitative", "axis": null}}},
{"mark": {"type": "line", "color": "#33dd33", "strokeWidth": 2.5},
 "encoding": {"x": {"field": "h", "type": "quantitative", "axis": null}, "y": {"field": "gri", "type": "quantitative", "axis": null}}},
{"mark": {"type": "line", "color": "#2b3fd6", "strokeWidth": 2.5},
 "encoding": {"x": {"field": "h", "type": "quantitative", "axis": null}, "y": {"field": "ref", "type": "quantitative", "axis": null}}}
],
"resolve": {"axis": {"x": "independent", "y": "independent"}}
}
],
"config": {
 "view": {"stroke": null},
 "font": "Liberation Sans",
 "axis": {"domainColor": "black", "domainWidth": 1.5, "tickColor": "black", "tickWidth": 1, "labelColor": "black", "labelFont": "Liberation Sans", "labelFontSize": 11.5, "labelOverlap": false, "labelFlush": false, "labelPadding": 2, "titleColor": "black", "titleFont": "Liberation Sans", "titleFontWeight": "normal", "titleFontSize": 12.5, "titlePadding": 6, "grid": false},
 "axisTop": {"labelPadding": 7},
 "axisLeft": {"titlePadding": 9},
 "title": {"font": "Liberation Sans", "color": "black"}
}
}
